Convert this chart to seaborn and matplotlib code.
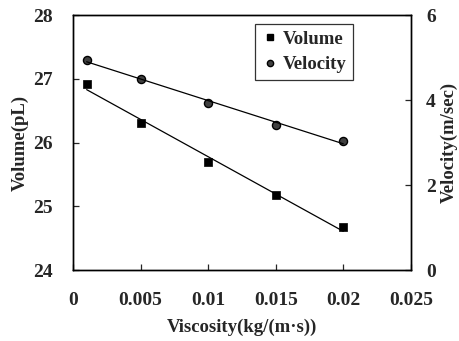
import numpy as np
import pandas as pd
import matplotlib
matplotlib.use("Agg")
import matplotlib.pyplot as plt
import seaborn as sns
from matplotlib.lines import Line2D

viscosity = [0.001, 0.005, 0.01, 0.015, 0.02]
volume = [26.92, 26.31, 25.69, 25.18, 24.67]
velocity = [4.94, 4.50, 3.93, 3.42, 3.04]
x_ticks = [0, 0.005, 0.01, 0.015, 0.02, 0.025]
x_tick_labels = ["0", "0.005", "0.01", "0.015", "0.02", "0.025"]
vol_ticks = [24, 25, 26, 27, 28]
vel_ticks = [0, 2, 4, 6]

sns.set_style("ticks")
plt.rcParams['font.family'] = ['Liberation Serif', 'DejaVu Serif']
plt.rcParams['font.weight'] = 'bold'
plt.rcParams['xtick.direction'] = 'in'
plt.rcParams['ytick.direction'] = 'in'

df = pd.DataFrame({"viscosity": viscosity, "volume": volume, "velocity": velocity})

fig = plt.figure(figsize=(4.6, 3.41), dpi=100)
ax = fig.add_axes([0.159, 0.208, 0.734, 0.748])
ax2 = ax.twinx()

sns.regplot(data=df, x="viscosity", y="volume", ax=ax, ci=None, scatter=False,
            line_kws=dict(color="black", lw=0.9))
sns.scatterplot(data=df, x="viscosity", y="volume", ax=ax, marker="s", s=38,
                color="black", edgecolor="black", legend=False)
sns.regplot(data=df, x="viscosity", y="velocity", ax=ax2, ci=None, scatter=False,
            line_kws=dict(color="black", lw=0.9))
sns.scatterplot(data=df, x="viscosity", y="velocity", ax=ax2, marker="o", s=34,
                color="#404040", edgecolor="black", linewidth=1.0, legend=False)

ax.set_xlim(0, 0.025)
ax.set_ylim(24, 28)
ax2.set_ylim(0, 6)
ax.set_xticks(x_ticks)
ax.set_xticklabels(x_tick_labels)
ax.set_yticks(vol_ticks)
ax2.set_yticks(vel_ticks)
ax.tick_params(axis="x", labelsize=14, length=4, width=0.9, pad=16)
ax.tick_params(axis="y", labelsize=14, length=4, width=0.9, pad=15)
ax2.tick_params(axis="y", labelsize=14, length=4, width=0.9, pad=11)
for a in (ax, ax2):
    for s in a.spines.values():
        s.set_linewidth(1.0)
        s.set_color("black")
        s.set_visible(True)

ax.set_xlabel("Viscosity(kg/(m·s))", fontsize=13.5, fontweight="bold", labelpad=7)
ax.set_ylabel("Volume(pL)", fontsize=13.5, fontweight="bold", labelpad=3)
ax2.set_ylabel("Velocity(m/sec)", fontsize=13.5, fontweight="bold", labelpad=3)

handles = [Line2D([], [], marker="s", color="black", ls="none", markersize=5),
           Line2D([], [], marker="o", color="#404040", markeredgecolor="black", ls="none", markersize=4.5)]
leg = ax2.legend(handles, ["Volume", "Velocity"], loc="upper left",
                 bbox_to_anchor=(0.54, 0.965), borderaxespad=0, frameon=True, fancybox=False,
                 edgecolor="black", prop=dict(size=13.5, weight="bold"),
                 handletextpad=0.3, borderpad=0.35, labelspacing=0.45, handlelength=0.8)
leg.get_frame().set_linewidth(0.9)

fig.savefig("out.png", dpi=100)
